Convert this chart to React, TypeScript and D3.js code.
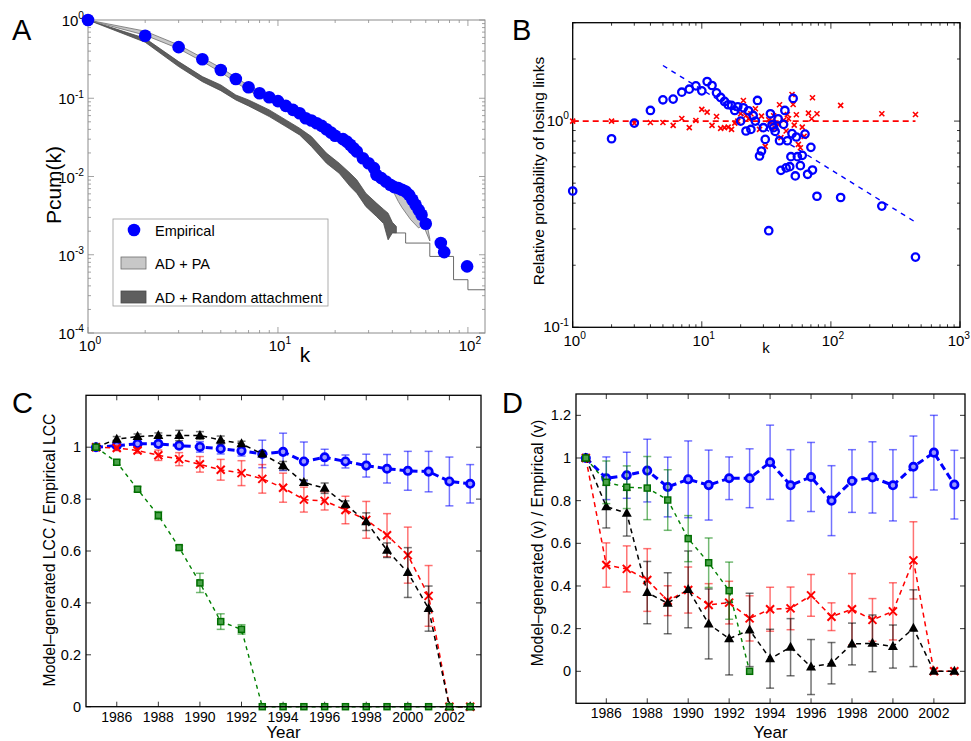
import React from 'react';
import * as d3 from 'd3';

const FONT = '"Liberation Sans", Arial, Helvetica, sans-serif';

// ---- Panel A: cumulative degree distribution ----
const kEmp = [1, 2, 3, 4, 5, 6, 7, 8, 9, 10, 11, 12, 13, 14, 15, 16, 17, 18, 19, 20, 22, 23, 24, 25, 26, 28, 30, 32, 33, 35, 37, 39, 41, 43, 45, 47, 49, 51, 53, 55, 57, 60, 72, 75, 99];
const pEmp = [1, 0.63, 0.45, 0.315, 0.23, 0.176, 0.138, 0.116, 0.103, 0.092, 0.0798, 0.071, 0.0644, 0.0555, 0.0519, 0.048, 0.0443, 0.0402, 0.0365, 0.0331, 0.03, 0.028, 0.0254, 0.023, 0.0209, 0.0171, 0.0148, 0.0128, 0.0105, 0.00953, 0.00863, 0.00783, 0.00731, 0.0071, 0.00676, 0.00644, 0.00583, 0.00504, 0.00435, 0.00375, 0.00324, 0.00249, 0.00141, 0.00108, 0.00071];

const kPA = [1, 2, 3, 4, 5, 7, 10, 15, 20, 25, 30, 35, 40, 43, 45, 50, 55, 58, 60, 63];
const paHi = [1, 0.72, 0.48, 0.33, 0.245, 0.145, 0.094, 0.054, 0.034, 0.024, 0.0155, 0.0105, 0.00745, 0.0068, 0.0066, 0.0055, 0.0045, 0.0035, 0.003, 0.0016];
const paLo = [1, 0.64, 0.43, 0.295, 0.215, 0.125, 0.082, 0.047, 0.03, 0.02, 0.0135, 0.009, 0.0068, 0.0048, 0.004, 0.0028, 0.0022, 0.0024, 0.002, 0.0015];

const kRA = [1, 2, 3, 4, 5, 6, 7, 9, 11, 13, 15, 18, 21, 24, 26, 29, 33, 36, 38, 40, 42];
const raHi = [1, 0.583, 0.294, 0.189, 0.148, 0.11, 0.0952, 0.071, 0.0529, 0.0414, 0.0324, 0.0199, 0.0148, 0.011, 0.00906, 0.00612, 0.00457, 0.0038, 0.0034, 0.0026, 0.0023];
const raLo = [1, 0.52, 0.254, 0.163, 0.125, 0.0952, 0.0798, 0.0583, 0.0435, 0.034, 0.0242, 0.0148, 0.011, 0.00745, 0.00612, 0.00414, 0.00309, 0.0025, 0.00155, 0.0019, 0.00189];

const kTail = [42, 47, 63, 84, 100, 123];
const pTail = [0.0019, 0.00141, 0.000952, 0.00048, 0.000357, 0.000357];

// ---- Panel B: relative probability of losing links ----
const kBlue = [1, 2, 3, 4, 5, 6, 7, 8, 9, 10, 11, 12, 13, 14, 15, 16, 17, 18, 19, 20, 21, 22, 23, 24, 25, 26, 27, 28, 29, 30, 31, 33, 34, 35, 36, 37, 39, 40, 41, 43, 44, 45, 46, 48, 49, 50, 51, 53, 54, 55, 58, 60, 63, 66, 70, 72, 78, 119, 248, 452];
const vBlue = [0.458, 0.821, 0.978, 1.126, 1.268, 1.278, 1.381, 1.428, 1.482, 1.402, 1.555, 1.488, 1.371, 1.302, 1.245, 1.2, 1.191, 1.126, 1.173, 1.0, 1.16, 0.895, 1.122, 0.911, 1.065, 1.0, 1.259, 0.677, 0.716, 0.929, 0.815, 0.294, 1.085, 0.96, 0.929, 0.891, 1.026, 0.803, 0.577, 0.964, 1.126, 0.593, 0.803, 0.601, 0.672, 0.869, 1.288, 0.542, 0.837, 0.672, 0.608, 0.682, 0.865, 0.552, 0.746, 0.579, 0.432, 0.426, 0.387, 0.219];
const kRed = [1, 2, 3, 4, 5, 6, 7, 8, 9, 10, 11, 12, 13, 14, 15, 16, 17, 18, 19, 20, 21, 22, 23, 24, 26, 28, 29, 31, 33, 34, 35, 36, 37, 39, 40, 41, 43, 45, 46, 47, 50, 51, 52, 54, 56, 58, 60, 62, 67, 71, 72, 78, 119, 248, 452];
const vRed = [1.0, 1.0, 0.978, 0.985, 0.985, 0.953, 1.03, 0.929, 1.007, 1.14, 1.105, 0.953, 1.053, 0.922, 0.929, 0.935, 0.911, 0.978, 1.0, 1.085, 1.259, 1.065, 1.026, 1.085, 1.147, 0.911, 1.057, 0.754, 1.015, 0.981, 1.0, 1.061, 0.925, 0.964, 1.2, 0.831, 1.011, 0.895, 1.077, 1.026, 1.345, 1.204, 0.956, 1.073, 0.771, 0.743, 0.935, 0.843, 1.093, 1.026, 1.297, 1.085, 1.191, 1.085, 1.077];
const blueFitK = [5, 447];
const blueFitV = [1.86, 0.325];
const redFitK = [1, 452];
const redFitV = [1, 1];

// ---- Panels C and D: model / empirical by year ----
const years = [1985, 1986, 1987, 1988, 1989, 1990, 1991, 1992, 1993, 1994, 1995, 1996, 1997, 1998, 1999, 2000, 2001, 2002, 2003];
const yearTicks = [1986, 1988, 1990, 1992, 1994, 1996, 1998, 2000, 2002];

const cBlue = [1.0, 1.006, 1.013, 1.013, 1.006, 1.001, 0.994, 0.986, 0.974, 0.982, 0.945, 0.961, 0.945, 0.929, 0.917, 0.909, 0.906, 0.868, 0.859];
const cBlueErr = [0, 0.01, 0.01, 0.01, 0.01, 0.02, 0.02, 0.02, 0.053, 0.072, 0.075, 0.031, 0.025, 0.044, 0.055, 0.075, 0.078, 0.094, 0.074];
const cRed = [1.0, 0.997, 0.987, 0.969, 0.954, 0.934, 0.913, 0.9, 0.878, 0.844, 0.798, 0.793, 0.758, 0.72, 0.661, 0.584, 0.427, 0, 0];
const cRedErr = [0, 0.01, 0.01, 0.02, 0.025, 0.03, 0.04, 0.048, 0.055, 0.056, 0.048, 0.035, 0.053, 0.071, 0.083, 0.108, 0.117, 0, 0];
const cBlack = [1.0, 1.031, 1.041, 1.045, 1.045, 1.045, 1.028, 1.013, 0.974, 0.929, 0.864, 0.842, 0.78, 0.713, 0.603, 0.517, 0.378, 0, 0];
const cBlackErr = [0, 0.01, 0.01, 0.01, 0.02, 0.015, 0.015, 0.01, 0.01, 0.016, 0.01, 0.02, 0.013, 0.034, 0.028, 0.096, 0.087, 0, 0];
const cGreen = [1.0, 0.942, 0.838, 0.737, 0.613, 0.477, 0.328, 0.298, 0, 0, 0, 0, 0, 0, 0, 0, 0, 0, 0];
const cGreenErr = [0, 0.01, 0.01, 0.015, 0.008, 0.037, 0.03, 0.018, 0, 0, 0, 0, 0, 0, 0, 0, 0, 0, 0];

const dBlue = [1.0, 0.905, 0.919, 0.941, 0.864, 0.9, 0.873, 0.905, 0.905, 0.98, 0.872, 0.911, 0.8, 0.892, 0.909, 0.872, 0.959, 1.025, 0.875];
const dBlueErr = [0, 0.1, 0.108, 0.147, 0.14, 0.18, 0.164, 0.1, 0.138, 0.174, 0.167, 0.162, 0.164, 0.147, 0.167, 0.167, 0.144, 0.175, 0.161];
const dRed = [1.0, 0.498, 0.48, 0.428, 0.331, 0.381, 0.311, 0.322, 0.248, 0.291, 0.295, 0.356, 0.256, 0.291, 0.241, 0.281, 0.52, 0, 0];
const dRedErr = [0, 0.104, 0.108, 0.147, 0.07, 0.108, 0.1, 0.1, 0.106, 0.103, 0.1, 0.098, 0.065, 0.167, 0.1, 0.134, 0.181, 0, 0];
const dBlack = [1.0, 0.772, 0.741, 0.369, 0.319, 0.384, 0.222, 0.153, 0.194, 0.059, 0.113, 0.02, 0.038, 0.128, 0.131, 0.116, 0.202, 0, 0];
const dBlackErr = [0, 0.1, 0.107, 0.146, 0.143, 0.18, 0.164, 0.17, 0.172, 0.138, 0.134, 0.129, 0.097, 0.098, 0.133, 0.101, 0.18, 0, 0];
const dGreen = [1.0, 0.886, 0.863, 0.859, 0.803, 0.622, 0.509, 0.378, 0];
const dGreenErr = [0, 0.1, 0.1, 0.148, 0.142, 0.108, 0.116, 0.134, 0];

const cTicks = [0, 0.2, 0.4, 0.6, 0.8, 1];
const dTicks = [0, 0.2, 0.4, 0.6, 0.8, 1, 1.2];

const Pow = ({ x, y, exp, anchor, size = 15 }: any) => (
  <text x={x} y={y} textAnchor={anchor} fontSize={size} fontFamily={FONT}>
    10<tspan dy={-size * 0.45} fontSize={size * 0.68}>{exp}</tspan>
  </text>
);

const Marker = ({ kind, cx, cy }: any) => {
  if (kind === 'circle')
    return <circle cx={cx} cy={cy} r={3.7} fill="#9a9aff" stroke="#0000ff" strokeWidth={2.7} />;
  if (kind === 'x')
    return <path d={`M${cx - 4},${cy - 4}L${cx + 4},${cy + 4}M${cx - 4},${cy + 4}L${cx + 4},${cy - 4}`} stroke="#ff0000" strokeWidth={2} />;
  if (kind === 'tri')
    return <path d={`M${cx},${cy - 5.5}L${cx + 5},${cy + 3.5}L${cx - 5},${cy + 3.5}Z`} fill="#000" />;
  return <rect x={cx - 3} y={cy - 3} width={6} height={6} fill="#4aa24a" stroke="#006e00" strokeWidth={1.5} />;
};

const Series = ({ x, y, vals, errs, color, width, dash, kind }: any) => {
  const pts: [number, number][] = vals.map((v: number, i: number) => [x(years[i]), y(v)]);
  const line = d3.line();
  return (
    <g>
      {vals.map((v: number, i: number) => {
        const e = errs[i];
        if (!e) return null;
        const px = x(years[i]);
        const t = y(v + e), b = y(v - e);
        return (
          <g key={i} stroke={color} strokeOpacity={0.55} strokeWidth={1.5}>
            <line x1={px} x2={px} y1={t} y2={b} />
            <line x1={px - 4} x2={px + 4} y1={t} y2={t} />
            <line x1={px - 4} x2={px + 4} y1={b} y2={b} />
          </g>
        );
      })}
      <path d={line(pts) || ''} fill="none" stroke={color} strokeWidth={width} strokeDasharray={dash} />
      {pts.map((p, i) => <Marker key={i} kind={kind} cx={p[0]} cy={p[1]} />)}
    </g>
  );
};

function PanelA() {
  const x = d3.scaleLog().domain([1, 123]).range([88, 485]);
  const y = d3.scaleLog().domain([1e-4, 1]).range([333, 20]);
  const band = (ks: number[], hi: number[], lo: number[]) =>
    d3.area<number>().x((_, i) => x(ks[i])).y0((_, i) => y(lo[i])).y1((_, i) => y(hi[i]))(ks) || '';
  const tail = d3.line<number>().curve(d3.curveStepAfter).x((_, i) => x(kTail[i])).y((_, i) => y(pTail[i]))(kTail) || '';
  const xt = x.ticks().filter(t => t <= 123);
  const yt = y.ticks();
  const isMajor = (t: number) => Math.abs(Math.log10(t) - Math.round(Math.log10(t))) < 1e-6;
  const ax = '#8c8c8c';
  return (
    <g>
      <text x={12} y={40} fontSize={29} fontFamily={FONT}>A</text>
      <rect x={88} y={20} width={397} height={313} fill="none" stroke={ax} strokeWidth={1} />
      {xt.map(t => {
        const l = isMajor(t) ? 6 : 3;
        return (
          <g key={'x' + t} stroke={ax} strokeWidth={0.8}>
            <line x1={x(t)} x2={x(t)} y1={333} y2={333 - l} />
            <line x1={x(t)} x2={x(t)} y1={20} y2={20 + l} />
          </g>
        );
      })}
      {yt.map(t => {
        const l = isMajor(t) ? 6 : 3;
        return (
          <g key={'y' + t} stroke={ax} strokeWidth={0.8}>
            <line x1={88} x2={88 + l} y1={y(t)} y2={y(t)} />
            <line x1={485} x2={485 - l} y1={y(t)} y2={y(t)} />
          </g>
        );
      })}
      {[0, -1, -2, -3, -4].map(e => (
        <Pow key={e} x={84} y={y(Math.pow(10, e)) + 6} exp={e === 0 ? '0' : '-' + -e} anchor="end" />
      ))}
      {[0, 1, 2].map(e => (
        <Pow key={e} x={x(Math.pow(10, e)) + 2} y={351} exp={String(e)} anchor="middle" />
      ))}
      <path d={band(kRA, raHi, raLo)} fill="#5e5e5e" stroke="#4a4a4a" strokeWidth={0.8} />
      <path d={band(kPA, paHi, paLo)} fill="#c8c8c8" stroke="#6e6e6e" strokeWidth={0.8} />
      <path d={tail} fill="none" stroke="#5a5a5a" strokeWidth={0.9} />
      {kEmp.map((k, i) => <circle key={i} cx={x(k)} cy={y(pEmp[i])} r={6.3} fill="#0000ff" />)}
      <text transform={`translate(61,185) rotate(-90)`} textAnchor="middle" fontSize={21} fontFamily={FONT}>Pcum(k)</text>
      <text x={305} y={362} textAnchor="middle" fontSize={21} fontFamily={FONT}>k</text>
      <g fontFamily={FONT} fontSize={14.5}>
        <rect x={113} y={219} width={215} height={87} fill="#fff" stroke="#999" strokeWidth={0.8} />
        <circle cx={134} cy={230} r={6.3} fill="#0000ff" />
        <text x={155} y={236}>Empirical</text>
        <rect x={121} y={257} width={25} height={12} fill="#c8c8c8" stroke="#6e6e6e" strokeWidth={0.8} />
        <text x={155} y={269}>AD + PA</text>
        <rect x={121} y={291} width={25} height={12} fill="#5e5e5e" stroke="#4a4a4a" strokeWidth={0.8} />
        <text x={155} y={303}>AD + Random attachment</text>
      </g>
    </g>
  );
}

function PanelB() {
  const x = d3.scaleLog().domain([1, 1000]).range([572.7, 960]);
  const y = d3.scaleLog().domain([0.1, 3]).range([327.3, 22.7]);
  const xt = x.ticks();
  const yt = y.ticks().filter(t => t <= 3);
  const isMajor = (t: number) => Math.abs(Math.log10(t) - Math.round(Math.log10(t))) < 1e-6;
  const fit = (ks: number[], vs: number[]) => d3.line<number>().x((_, i) => x(ks[i])).y((_, i) => y(vs[i]))(ks) || '';
  return (
    <g>
      <text x={512} y={40} fontSize={29} fontFamily={FONT}>B</text>
      {xt.map(t => {
        const l = isMajor(t) ? 6 : 3;
        return (
          <g key={'x' + t} stroke="#000" strokeWidth={0.8}>
            <line x1={x(t)} x2={x(t)} y1={327.3} y2={327.3 - l} />
            <line x1={x(t)} x2={x(t)} y1={22.7} y2={22.7 + l} />
          </g>
        );
      })}
      {yt.map(t => {
        const l = isMajor(t) ? 6 : 3;
        return (
          <g key={'y' + t} stroke="#000" strokeWidth={0.8}>
            <line x1={572.7} x2={572.7 + l} y1={y(t)} y2={y(t)} />
            <line x1={960} x2={960 - l} y1={y(t)} y2={y(t)} />
          </g>
        );
      })}
      <rect x={572.7} y={22.7} width={387.3} height={304.6} fill="none" stroke="#000" strokeWidth={1.3} />
      {[0, -1].map(e => (
        <Pow key={e} x={569} y={y(Math.pow(10, e)) + 5} exp={e === 0 ? '0' : '-1'} anchor="end" />
      ))}
      {[0, 1, 2].map(e => (
        <Pow key={e} x={x(Math.pow(10, e)) + 2} y={346} exp={String(e)} anchor="middle" />
      ))}
      <Pow x={970} y={346} exp="3" anchor="end" />
      <path d={fit(redFitK, redFitV)} stroke="#ff0000" strokeWidth={1.8} strokeDasharray="6,4" fill="none" />
      <path d={fit(blueFitK, blueFitV)} stroke="#0000ff" strokeWidth={1.4} strokeDasharray="5,5" fill="none" />
      {kRed.map((k, i) => {
        const cx = x(k), cy = y(vRed[i]);
        return <path key={i} d={`M${cx - 2.5},${cy - 2.5}L${cx + 2.5},${cy + 2.5}M${cx - 2.5},${cy + 2.5}L${cx + 2.5},${cy - 2.5}`} stroke="#ff0000" strokeWidth={1.6} />;
      })}
      {kBlue.map((k, i) => <circle key={i} cx={x(k)} cy={y(vBlue[i])} r={3.7} fill="none" stroke="#0000ff" strokeWidth={2.3} />)}
      <text transform={`translate(544,171) rotate(-90)`} textAnchor="middle" fontSize={15.5} fontFamily={FONT}>Relative probability of losing links</text>
      <text x={766} y={353} textAnchor="middle" fontSize={15} fontFamily={FONT}>k</text>
    </g>
  );
}

function YearPanel({ letter, left, right, top, bottom, yDomain, ticks, label, labelX, labelY, series }: any) {
  const x = d3.scaleLinear().domain([1984.52, 2003.52]).range([left, right]);
  const y = d3.scaleLinear().domain(yDomain).range([bottom, top]);
  return (
    <g fontFamily={FONT}>
      <text x={left - 74} y={413} fontSize={29}>{letter}</text>
      {yearTicks.map(t => (
        <g key={t} stroke="#000" strokeWidth={0.8}>
          <line x1={x(t)} x2={x(t)} y1={bottom} y2={bottom - 5} />
          <line x1={x(t)} x2={x(t)} y1={top} y2={top + 5} />
        </g>
      ))}
      {ticks.map((t: number) => (
        <g key={t} stroke="#000" strokeWidth={0.8}>
          <line x1={left} x2={left + 5} y1={y(t)} y2={y(t)} />
          <line x1={right} x2={right - 5} y1={y(t)} y2={y(t)} />
        </g>
      ))}
      {yearTicks.map(t => (
        <text key={t} x={x(t)} y={bottom + 15} textAnchor="middle" fontSize={14}>{t}</text>
      ))}
      {ticks.map((t: number) => (
        <text key={t} x={left - 5} y={y(t) + 5} textAnchor="end" fontSize={14.5}>{d3.format('~g')(t)}</text>
      ))}
      {series.map((s: any, i: number) => (
        <Series key={i} x={x} y={y} {...s} />
      ))}
      <rect x={left} y={top} width={right - left} height={bottom - top} fill="none" stroke="#000" strokeWidth={1.3} />
      <text transform={`translate(${labelX},${labelY}) rotate(-90)`} textAnchor="middle" fontSize={15.8}>{label}</text>
      <text x={(left + right) / 2} y={738} textAnchor="middle" fontSize={17}>Year</text>
    </g>
  );
}

export default function App() {
  const style = (color: string, width: number, dash: string, kind: string) => ({ color, width, dash, kind });
  const cSeries = [
    { vals: cBlue, errs: cBlueErr, ...style('#0000ff', 3, '7,4', 'circle') },
    { vals: cRed, errs: cRedErr, ...style('#ff0000', 1.5, '5,4', 'x') },
    { vals: cBlack, errs: cBlackErr, ...style('#000000', 1.5, '5,4', 'tri') },
    { vals: cGreen, errs: cGreenErr, ...style('#008000', 1.4, '4,4', 'sq') },
  ];
  const dSeries = [
    { vals: dBlue, errs: dBlueErr, ...style('#0000ff', 3, '7,4', 'circle') },
    { vals: dRed, errs: dRedErr, ...style('#ff0000', 1.5, '5,4', 'x') },
    { vals: dBlack, errs: dBlackErr, ...style('#000000', 1.5, '5,4', 'tri') },
    { vals: dGreen, errs: dGreenErr, ...style('#008000', 1.4, '4,4', 'sq') },
  ];
  return (
    <div>
      <style>{'body{margin:0}'}</style>
      <svg width={971} height={741} style={{ display: 'block', background: '#fff' }}>
        <PanelA />
        <PanelB />
        <YearPanel letter="C" left={86} right={481} top={395.3} bottom={706.7} yDomain={[0, 1.2]} ticks={cTicks}
          label="Model–generated LCC / Empirical LCC" labelX={55} labelY={550} series={cSeries} />
        <YearPanel letter="D" left={576} right={965} top={394} bottom={703.3} yDomain={[-0.15, 1.3]} ticks={dTicks}
          label="Model–generated (v) / Empirical (v)" labelX={543} labelY={543} series={dSeries} />
      </svg>
    </div>
  );
}
